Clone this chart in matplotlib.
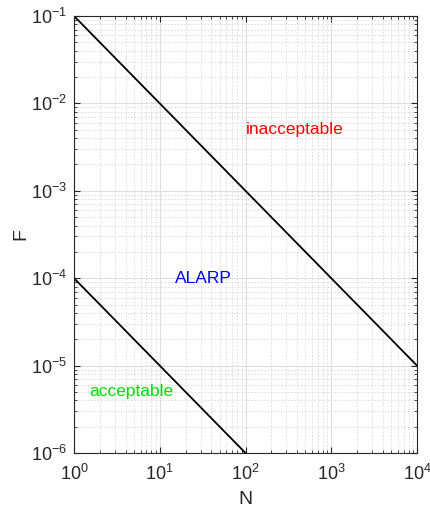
import numpy as np
import matplotlib.pyplot as plt

plt.rcParams['font.family'] = ['Liberation Sans', 'DejaVu Sans']
plt.rcParams['mathtext.fontset'] = 'custom'
plt.rcParams['mathtext.rm'] = 'Liberation Sans'
plt.rcParams['mathtext.it'] = 'Liberation Sans:italic'

# limites F-N (pente -1)
n_haut = [1, 1e4]
f_haut = [1e-1, 1e-5]
n_bas = [1, 1e2]
f_bas = [1e-4, 1e-6]

zones = ['inacceptable', 'ALARP', 'acceptable']
zones_n = [100, 15, 1.5]
zones_f = [5e-3, 1e-4, 5e-6]
zones_couleur = ['red', 'blue', '#00dd00']

fig = plt.figure(figsize=(4.3, 5.08), dpi=100)
ax = fig.add_axes([74/430, 1-453/508, 343/430, 437/508])

ax.plot(n_haut, f_haut, 'k-', lw=1.3)
ax.plot(n_bas, f_bas, 'k-', lw=1.3)
for txt, x, y, c in zip(zones, zones_n, zones_f, zones_couleur):
    ax.text(x, y, txt, color=c, fontsize=12.5, ha='left', va='center')

ax.set_xscale('log')
ax.set_yscale('log')
ax.set_xlim(1, 1e4)
ax.set_ylim(1e-6, 1e-1)
ax.set_xlabel('N', fontsize=14, labelpad=5, color='#262626')
ax.set_ylabel('F', fontsize=14, labelpad=1, color='#262626')
ax.grid(True, which='major', color='#dedede', lw=0.8, ls='-')
ax.grid(True, which='minor', color='#d8d8d8', lw=0.6, ls=(0, (2, 2)))
ax.tick_params(which='both', direction='in', top=True, right=True, labelsize=13, colors='#262626')
ax.tick_params(axis='x', which='major', pad=8)
ax.tick_params(axis='y', which='major', pad=5)
ax.tick_params(which='minor', length=2.5)
ax.tick_params(which='major', length=4)
for s in ax.spines.values():
    s.set_color('#262626')
    s.set_linewidth(0.8)

fig.savefig('out.png', dpi=100)
